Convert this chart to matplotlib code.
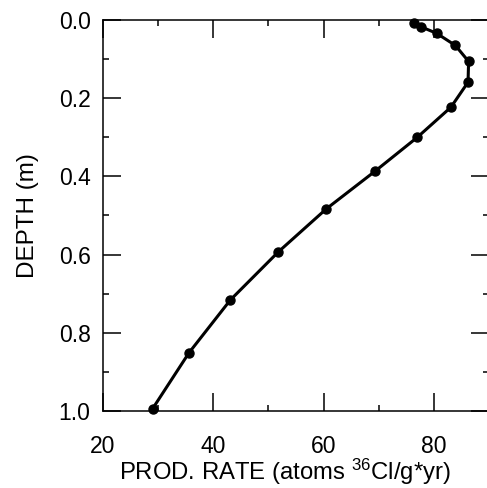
import numpy as np
import matplotlib
matplotlib.use('Agg')
import matplotlib.pyplot as plt

# production rate vs depth
prod_rate = [76.4, 77.6, 80.5, 83.9, 86.3, 86.2, 83.1, 77.0, 69.4, 60.5, 51.8, 43.1, 35.6, 29.0]
depth = [0.008, 0.017, 0.034, 0.065, 0.106, 0.159, 0.223, 0.30, 0.386, 0.483, 0.593, 0.716, 0.851, 0.994]

x_ticks = [20, 40, 60, 80]
y_ticks = [0.0, 0.2, 0.4, 0.6, 0.8, 1.0]

plt.rcParams['font.family'] = ['Liberation Sans', 'DejaVu Sans']
plt.rcParams['mathtext.fontset'] = 'custom'
plt.rcParams['mathtext.rm'] = 'Liberation Sans'

fig = plt.figure(figsize=(4.87, 4.88), dpi=100)
ax = fig.add_axes([103 / 487, 1 - 411 / 488, (489 - 103) / 487, (411 - 20) / 488])

ax.plot(prod_rate, depth, color='black', linewidth=2.2, marker='o', markersize=6.5, clip_on=False)

ax.set_xlim(20, 90)
ax.set_ylim(1.0, 0.0)
ax.set_xticks(x_ticks)
ax.set_xticks([30, 50, 70], minor=True)
ax.set_yticks(y_ticks)
ax.set_yticks([0.1, 0.3, 0.5, 0.7, 0.9], minor=True)
ax.set_xticklabels([str(v) for v in x_ticks])
ax.set_yticklabels([f'{v:.1f}' for v in y_ticks])

ax.tick_params(which='both', direction='in', top=True, right=True, labelsize=16.5, width=1.1)
ax.tick_params(which='major', length=13)
ax.tick_params(which='minor', length=4.5)
ax.tick_params(axis='x', pad=17)
ax.tick_params(axis='y', pad=9)

for s in ax.spines.values():
    s.set_linewidth(1.1)

ax.set_xlabel('PROD. RATE (atoms $\\mathrm{^{36}}$Cl/g*yr)', fontsize=17.2)
ax.xaxis.set_label_coords(0.47, -0.117, transform=ax.transAxes)
ax.xaxis.label.set_va('top')
ax.set_ylabel('DEPTH (m)', fontsize=17.5, labelpad=14)

fig.savefig('out.png', dpi=100)
